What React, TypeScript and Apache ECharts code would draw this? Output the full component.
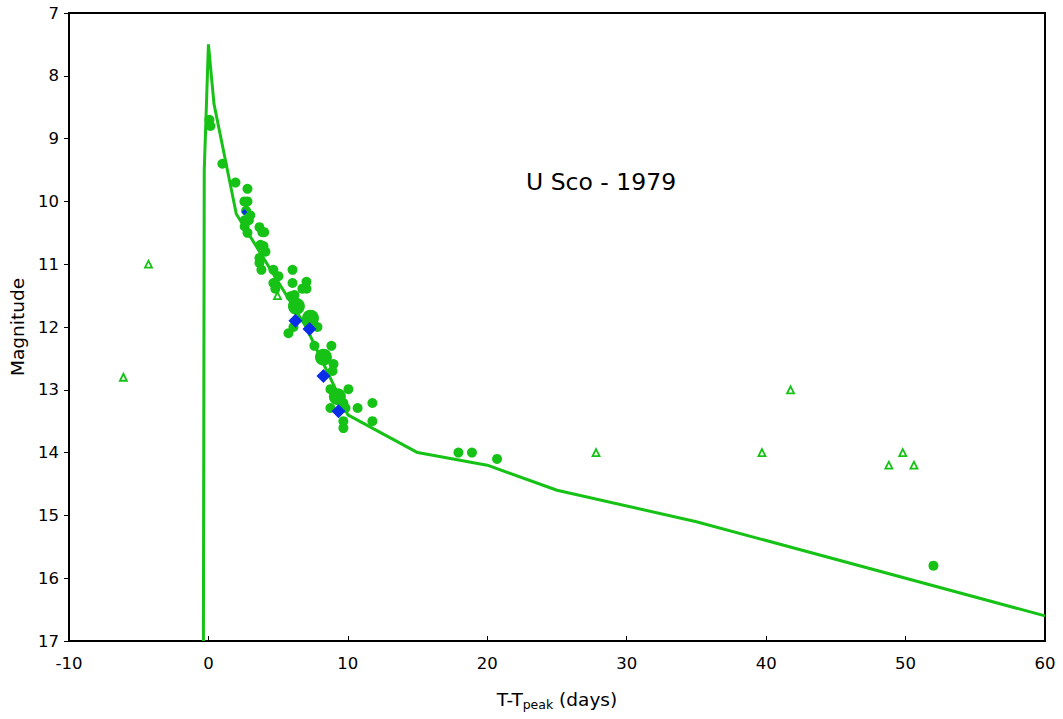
import React, { useEffect, useRef } from "react";
import * as echarts from "echarts";

const xTicks = [-10, 0, 10, 20, 30, 40, 50, 60];
const yTicks = [7, 8, 9, 10, 11, 12, 13, 14, 15, 16, 17];

// Small observed points [days, magnitude]
const smallDots: [number, number][] = [
  [0.07, 8.7], [0.14, 8.8], [1.0, 9.4], [1.94, 9.7], [2.8, 9.8], [2.8, 10.0], [2.58, 10.0],
  [2.7, 10.15], [3.0, 10.22], [2.6, 10.3], [2.9, 10.3], [2.6, 10.4], [2.8, 10.5],
  [3.66, 10.41], [3.87, 10.49], [4.0, 10.49], [3.73, 10.69], [3.95, 10.71], [4.09, 10.8],
  [3.66, 10.9], [3.66, 10.98], [3.8, 11.09], [4.66, 11.09], [5.02, 11.19], [6.03, 11.09],
  [4.66, 11.3], [4.8, 11.39], [6.03, 11.3], [7.03, 11.28], [6.74, 11.39], [7.03, 11.39],
  [5.88, 11.51], [6.17, 11.49], [6.1, 12.0], [5.74, 12.1], [7.82, 12.0], [7.6, 12.3],
  [8.82, 12.3], [8.97, 12.59], [8.9, 12.7], [8.75, 12.99], [10.04, 12.99], [9.68, 13.21],
  [8.75, 13.29], [10.7, 13.29], [11.76, 13.21], [9.83, 13.29], [9.68, 13.5], [9.68, 13.61],
  [11.76, 13.5], [17.93, 14.0], [18.9, 14.0], [20.7, 14.1], [52.0, 15.8]
];

// Large observed points
const largeDots: [number, number][] = [
  [6.31, 11.67], [7.32, 11.86], [8.25, 12.48], [9.25, 13.11]
];

// Blue diamonds
const diamonds: [number, number][] = [
  [6.24, 11.9], [7.25, 12.03], [8.25, 12.78], [9.33, 13.34]
];
const tinyDiamond: [number, number][] = [[2.58, 10.17]];

// Hollow triangles (upper limits)
const triangles: [number, number][] = [
  [-6.1, 12.8], [-4.3, 11.0], [4.95, 11.5], [27.8, 14.0], [39.7, 14.0], [41.75, 13.0],
  [48.8, 14.2], [49.8, 14.0], [50.6, 14.2]
];

// Model light curve
const modelCurve: [number, number][] = [
  [-0.36, 17.0], [-0.3, 9.5], [-0.15, 8.5], [0, 7.5], [0.4, 8.45], [2.0, 10.2],
  [7.0, 12.0], [10.0, 13.4], [15.0, 14.0], [20.0, 14.2], [25.0, 14.6], [35.0, 15.1],
  [60.0, 16.6]
];

const GREEN = "#15c215";
const BLUE = "#0a2de8";

export default function App() {
  const ref = useRef<HTMLDivElement>(null);
  useEffect(() => {
    if (!ref.current) return;
    const chart = echarts.init(ref.current, null, { renderer: "svg" });
    const font = "DejaVu Sans, Verdana, sans-serif";
    chart.setOption({
      animation: false,
      backgroundColor: "#ffffff",
      grid: {
        left: 69, top: 13, right: 18, bottom: 78,
        outerBoundsMode: "none", containLabel: false,
        show: true, borderColor: "#000", borderWidth: 2, backgroundColor: "transparent"
      },
      title: {
        text: "U Sco - 1979",
        left: 521, top: 165,
        textStyle: { fontFamily: font, fontSize: 23.5, fontWeight: "normal", color: "#000" }
      },
      xAxis: {
        type: "value", min: xTicks[0], max: xTicks[xTicks.length - 1], interval: 10,
        name: "{a|T-T}{s|peak}{a| (days)}",
        nameLocation: "middle", nameGap: 47,
        nameTextStyle: {
          rich: {
            a: { fontFamily: font, fontSize: 18.5, color: "#000" },
            s: { fontFamily: font, fontSize: 12.5, color: "#000", verticalAlign: "bottom", padding: [10, 0, 0, 0] }
          }
        },
        axisLine: { show: true, onZero: false, lineStyle: { color: "#000", width: 2 } },
        axisTick: { show: true, inside: true, length: 5, lineStyle: { color: "#000", width: 1 } },
        axisLabel: { fontFamily: font, fontSize: 16.5, color: "#000", margin: 14 },
        splitLine: { show: false }
      },
      yAxis: {
        type: "value", min: yTicks[0], max: yTicks[yTicks.length - 1], interval: 1, inverse: true,
        name: "Magnitude", nameLocation: "middle", nameGap: 42, nameRotate: 90,
        nameTextStyle: { fontFamily: font, fontSize: 18.5, color: "#000" },
        axisLine: { show: true, onZero: false, lineStyle: { color: "#000", width: 2 } },
        axisTick: { show: true, inside: false, length: 5, lineStyle: { color: "#000", width: 1 } },
        axisLabel: { fontFamily: font, fontSize: 16.5, color: "#000", margin: 10 },
        splitLine: { show: false }
      },
      series: [
        {
          type: "line", data: modelCurve, showSymbol: false, symbol: "none",
          lineStyle: { color: GREEN, width: 3 }, z: 2
        },
        {
          type: "scatter", data: smallDots, symbol: "circle", symbolSize: 10,
          itemStyle: { color: GREEN, opacity: 1 }, z: 3
        },
        {
          type: "scatter", data: largeDots, symbol: "circle", symbolSize: 17,
          itemStyle: { color: GREEN, opacity: 1 }, z: 3
        },
        {
          type: "scatter", data: triangles, symbol: "triangle", symbolSize: 7,
          itemStyle: { color: "#fff", borderColor: GREEN, borderWidth: 1.8, opacity: 1 }, z: 3
        },
        {
          type: "scatter", data: diamonds, symbol: "diamond", symbolSize: 14,
          itemStyle: { color: BLUE, opacity: 1 }, z: 4
        },
        {
          type: "scatter", data: tinyDiamond, symbol: "diamond", symbolSize: 6,
          itemStyle: { color: BLUE, opacity: 1 }, z: 4
        }
      ]
    });
    return () => chart.dispose();
  }, []);
  return (
    <div
      ref={ref}
      style={{ position: "absolute", left: 0, top: 0, width: 1063, height: 719 }}
    />
  );
}
